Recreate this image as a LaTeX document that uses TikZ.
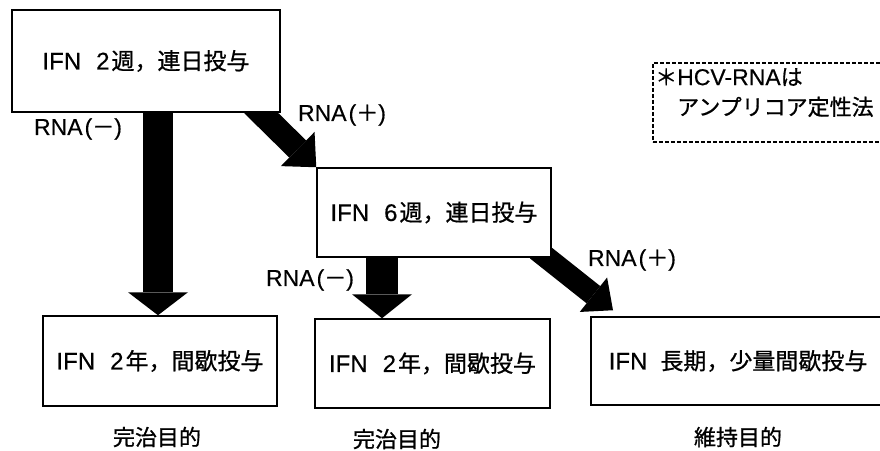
\documentclass[tikz,border=0pt]{standalone}
\usepackage{fontspec}
\setmainfont{Noto Sans CJK JP}[FakeBold=0.8]
\newfontfamily\lat{Liberation Sans}[FakeBold=0.4]
\usetikzlibrary{arrows.meta,calc,backgrounds}
\newcommand\ifnx[1]{{\lat\fontsize{24}{28}\selectfont IFN}\hspace{15pt}{\lat\fontsize{24}{28}\selectfont #1}\hspace{2pt}}
\newcommand\rnaneg{{\lat\fontsize{23}{27}\selectfont RNA\kern2pt(}－{\lat\fontsize{23}{27}\selectfont)}}
\newcommand\rnapos{{\lat\fontsize{23}{27}\selectfont RNA\kern2pt(}＋{\lat\fontsize{23}{27}\selectfont)}}
\begin{document}
\begin{tikzpicture}[x=1pt,y=-1pt,
  box/.style={draw=black, line width=1.5pt, fill=white, inner sep=0pt, font=\fontsize{23}{27}\selectfont},
  lbl/.style={inner sep=0pt, font=\fontsize{22}{26}\selectfont},
  vbiga/.style={line width=30pt, -{Triangle[length=23pt,width=60pt,line width=0pt]}},
  vbigb/.style={line width=32pt, -{Triangle[length=24pt,width=60pt,line width=0pt]}},
  dbiga/.style={line width=24pt, -{Triangle[length=26pt,width=48pt,line width=0pt]}},
  dbigb/.style={line width=22pt, -{Triangle[length=25pt,width=44pt,line width=0pt]}},
  notebox/.style={draw, dash pattern=on 4pt off 2pt, line width=1.6pt}
]
\useasboundingbox (0,0) rectangle (880,450);
\clip (0,0) rectangle (880,450);

\node[box, minimum width=268, minimum height=102] (b1) at (146,61) {\ifnx{2}週，連日投与};
\node[box, minimum width=234, minimum height=89] (b2) at (434,212.5) {\ifnx{6}週，連日投与};
\node[box, minimum width=234, minimum height=90] (b3) at (160,361) {\ifnx{2}年，間歇投与};
\node[box, minimum width=235, minimum height=89] (b4) at (432.5,363.5) {\ifnx{2}年，間歇投与};
\node[box, anchor=west, minimum height=88, text width=274, inner xsep=18, align=left] (b5) at (590,361) {{\lat\fontsize{24}{28}\selectfont IFN}\hspace{13pt}長期，少量間歇投与};

\node[notebox, minimum width=260, minimum height=79, anchor=north west] (nt) at (652,62) {};
\node[lbl, anchor=north west, align=left, font=\fontsize{22}{30}\selectfont] (ntx) at ($(nt.north west)+(3,6)$) {＊{\lat\fontsize{23}{27}\selectfont HCV-RNA}は\\\hspace*{1em}アンプリコア定性法};

\node[lbl] (l1) at (78,129) {\rnaneg};
\node[lbl] (l2) at (342,115) {\rnapos};
\node[lbl] (l3) at (310,280) {\rnaneg};
\node[lbl] (l4) at (632,260) {\rnapos};

\node[lbl] (g1) at (157,437) {完治目的};
\node[lbl] (g2) at (397,439) {完治目的};
\node[lbl] (g3) at (738,437) {維持目的};

\begin{scope}[on background layer]
\coordinate (c1) at (158,0);
\coordinate (c2) at (382,0);
\draw[vbiga] (b1.south -| c1) -- (b3.north -| c1);
\draw[vbigb] (b2.south -| c2) -- (b4.north -| c2);
\draw[dbiga] ($(b1.south east)+(-28,-8)$) -- (b2.north west);
\draw[dbigb] ($(b2.south east)+(-15,-8)$) -- ($(b5.north west)+(23,-6)$);
\end{scope}
\end{tikzpicture}
\end{document}
